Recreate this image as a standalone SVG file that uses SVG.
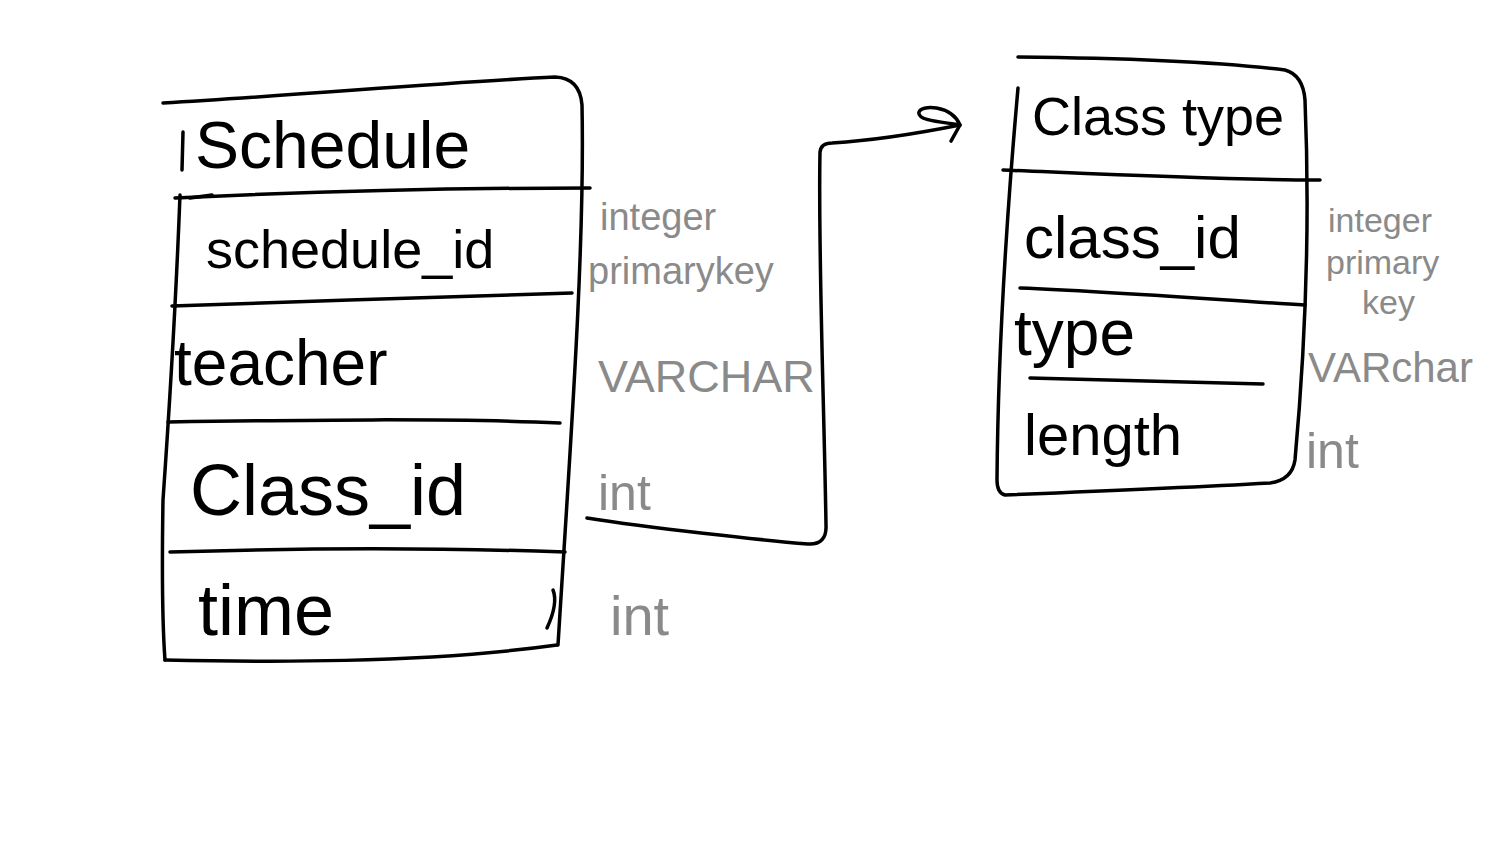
<svg xmlns="http://www.w3.org/2000/svg" width="1488" height="856" viewBox="0 0 1488 856">
<defs>
<style>
.ln{fill:none;stroke:#000;stroke-width:3.5;stroke-linecap:round;stroke-linejoin:round}
.t{font-family:"Liberation Sans","DejaVu Sans",sans-serif;fill:#000}
.a{font-family:"Liberation Sans","DejaVu Sans",sans-serif;fill:#8a8a8a}
</style>
<marker id="arr" viewBox="-50 -30 60 50" refX="0" refY="0" markerWidth="60" markerHeight="50" markerUnits="userSpaceOnUse" orient="auto">
<path d="M0,0 C-15,-6 -40,-12 -38,-20 C-35,-28 -5,-22 0,0 M0,0 L-12,14" fill="none" stroke="#000" stroke-width="3.5" stroke-linecap="round" stroke-linejoin="round"/>
</marker>
</defs>
<rect width="1488" height="856" fill="#fff"/>

<g id="schedule">
<path class="ln" d="M163,103 C300,95 450,82 555,77 Q580,78 582,105 C585,250 570,450 558,645"/>
<path class="ln" d="M183,132 L182,170 M180,195 C176,300 170,400 163,500 C162,560 162,620 165,660"/>
<path class="ln" d="M165,660 C260,662 420,664 557,645"/>
<path class="ln" d="M175,198 C300,192 450,188 590,188"/>
<path class="ln" d="M190,198 L212,195"/>
<path class="ln" d="M172,306 C300,302 450,296 572,293"/>
<path class="ln" d="M168,422 C300,420 450,418 560,423"/>
<path class="ln" d="M170,552 C300,548 450,548 565,552"/>
<path class="ln" d="M553,590 C557,600 553,615 547,628"/>
<text class="t" x="195" y="168" font-size="66">Schedule</text>
<text class="t" x="206" y="268" font-size="54">schedule_id</text>
<text class="t" x="174" y="385" font-size="64">teacher</text>
<text class="t" x="190" y="515" font-size="72">Class_id</text>
<text class="t" x="198" y="635" font-size="72">time</text>
<text class="a" x="600" y="230" font-size="38">integer</text>
<text class="a" x="588" y="284" font-size="38">primarykey</text>
<text class="a" x="598" y="392" font-size="45">VARCHAR</text>
<text class="a" x="598" y="510" font-size="50">int</text>
<text class="a" x="610" y="635" font-size="56">int</text>
</g>

<g id="classtype">
<path class="ln" d="M1018,57 C1120,58 1220,62 1285,70 Q1303,75 1305,100 C1310,220 1305,350 1295,460 Q1292,480 1270,483 C1180,488 1080,492 1005,495 Q997,493 997,480 C998,350 1008,200 1018,88"/>
<path class="ln" d="M1003,170 C1100,174 1220,180 1320,180"/>
<path class="ln" d="M1020,288 C1120,292 1220,300 1305,305"/>
<path class="ln" d="M1030,378 C1120,380 1200,382 1263,384"/>
<text class="t" x="1032" y="135" font-size="54">Class type</text>
<text class="t" x="1024" y="258" font-size="60">class_id</text>
<text class="t" x="1014" y="355" font-size="64">type</text>
<text class="t" x="1024" y="455" font-size="58">length</text>
<text class="a" x="1328" y="232" font-size="34">integer</text>
<text class="a" x="1326" y="274" font-size="34">primary</text>
<text class="a" x="1362" y="314" font-size="34">key</text>
<text class="a" x="1308" y="382" font-size="42">VARchar</text>
<text class="a" x="1306" y="468" font-size="50">int</text>
</g>

<g id="connectors">
<path class="ln" d="M587,518 C650,528 760,540 808,544 Q827,545 826,525 C824,400 818,250 820,152 Q821,143 832,143 C880,140 920,133 960,125" marker-end="url(#arr)"/>
</g>
</svg>
